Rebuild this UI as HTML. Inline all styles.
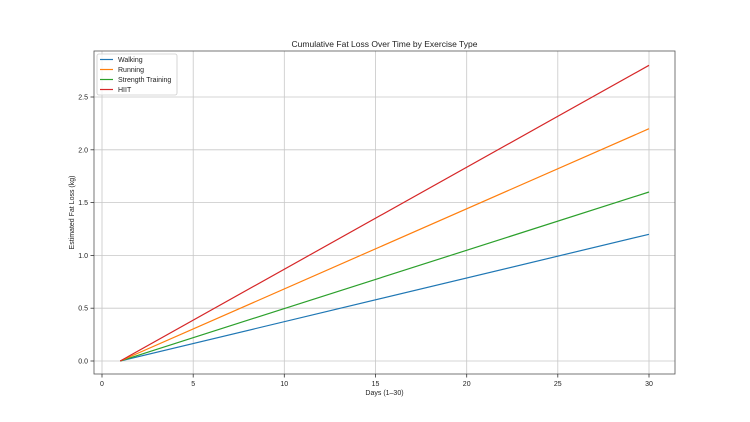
<!DOCTYPE html>
<html><head><meta charset="utf-8"><style>body{margin:0;background:#fff}svg{display:block;font-family:"Liberation Sans","DejaVu Sans",sans-serif}</style></head><body>
<svg width="750" height="422" viewBox="0 0 750 422">
<rect width="750" height="422" fill="#fff"/>
<g stroke="#b0b0b0" stroke-width="0.8" opacity="0.7">
<line x1="102" y1="51" x2="102" y2="374"/><line x1="193.2" y1="51" x2="193.2" y2="374"/><line x1="284.3" y1="51" x2="284.3" y2="374"/><line x1="375.5" y1="51" x2="375.5" y2="374"/><line x1="466.7" y1="51" x2="466.7" y2="374"/><line x1="557.8" y1="51" x2="557.8" y2="374"/><line x1="649" y1="51" x2="649" y2="374"/>
<line x1="94" y1="361" x2="675" y2="361"/><line x1="94" y1="308.2" x2="675" y2="308.2"/><line x1="94" y1="255.4" x2="675" y2="255.4"/><line x1="94" y1="202.6" x2="675" y2="202.6"/><line x1="94" y1="149.8" x2="675" y2="149.8"/><line x1="94" y1="97" x2="675" y2="97"/>
</g>
<g stroke-width="1.2" fill="none">
<line x1="120.2" y1="361" x2="649" y2="234.3" stroke="#1f77b4"/>
<line x1="120.2" y1="361" x2="649" y2="192" stroke="#2ca02c"/>
<line x1="120.2" y1="361" x2="649" y2="128.7" stroke="#ff7f0e"/>
<line x1="120.2" y1="361" x2="649" y2="65.3" stroke="#d62728"/>
</g>
<rect x="94" y="51" width="581" height="323" fill="none" stroke="#555" stroke-width="0.8"/>
<g stroke="#333" stroke-width="0.8">
<line x1="102" y1="374" x2="102" y2="377.5"/><line x1="193.2" y1="374" x2="193.2" y2="377.5"/><line x1="284.3" y1="374" x2="284.3" y2="377.5"/><line x1="375.5" y1="374" x2="375.5" y2="377.5"/><line x1="466.7" y1="374" x2="466.7" y2="377.5"/><line x1="557.8" y1="374" x2="557.8" y2="377.5"/><line x1="649" y1="374" x2="649" y2="377.5"/>
<line x1="90.5" y1="361" x2="94" y2="361"/><line x1="90.5" y1="308.2" x2="94" y2="308.2"/><line x1="90.5" y1="255.4" x2="94" y2="255.4"/><line x1="90.5" y1="202.6" x2="94" y2="202.6"/><line x1="90.5" y1="149.8" x2="94" y2="149.8"/><line x1="90.5" y1="97" x2="94" y2="97"/>
</g>
<g font-size="7" fill="#222" text-anchor="middle">
<text x="102" y="386">0</text><text x="193.2" y="386">5</text><text x="284.3" y="386">10</text><text x="375.5" y="386">15</text><text x="466.7" y="386">20</text><text x="557.8" y="386">25</text><text x="649" y="386">30</text>
</g>
<g font-size="7" fill="#222" text-anchor="end">
<text x="88" y="363.5">0.0</text><text x="88" y="310.7">0.5</text><text x="88" y="257.9">1.0</text><text x="88" y="205.1">1.5</text><text x="88" y="152.3">2.0</text><text x="88" y="99.5">2.5</text>
</g>
<text x="384.5" y="395" font-size="7" text-anchor="middle" fill="#222">Days (1–30)</text>
<text transform="translate(74,212.5) rotate(-90)" font-size="7" text-anchor="middle" fill="#222">Estimated Fat Loss (kg)</text>
<text x="384.5" y="47" font-size="8.5" text-anchor="middle" fill="#222">Cumulative Fat Loss Over Time by Exercise Type</text>
<rect x="97" y="54" width="80" height="41" rx="2" fill="#fff" fill-opacity="0.8" stroke="#ccc" stroke-width="0.8"/>
<g stroke-width="1.2">
<line x1="100" y1="59.5" x2="113" y2="59.5" stroke="#1f77b4"/><line x1="100" y1="69.5" x2="113" y2="69.5" stroke="#ff7f0e"/><line x1="100" y1="79.5" x2="113" y2="79.5" stroke="#2ca02c"/><line x1="100" y1="89.5" x2="113" y2="89.5" stroke="#d62728"/>
</g>
<g font-size="7" fill="#222">
<text x="118" y="62">Walking</text><text x="118" y="72">Running</text><text x="118" y="82">Strength Training</text><text x="118" y="92">HIIT</text>
</g>
</svg>
</body></html>
